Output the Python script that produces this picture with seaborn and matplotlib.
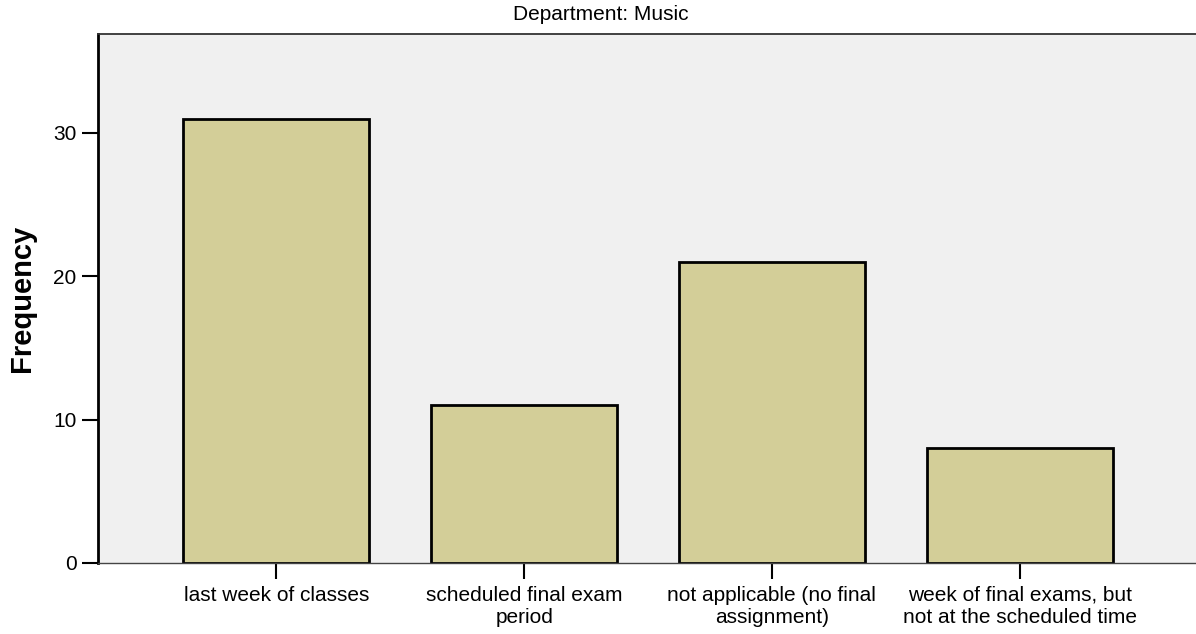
import matplotlib
matplotlib.use("Agg")
import matplotlib.pyplot as plt
import seaborn as sns
import pandas as pd

categories = ["last week of classes", "scheduled final exam\nperiod",
              "not applicable (no final\nassignment)", "week of final exams, but\nnot at the scheduled time"]
frequency = [31, 11, 21, 8]
yticks = [0, 10, 20, 30]

df = pd.DataFrame({"when": categories, "Frequency": frequency})

plt.rcParams['font.family'] = ['Liberation Sans', 'DejaVu Sans']

fig = plt.figure(figsize=(11.96, 6.34), dpi=100)
ax = fig.add_axes([98/1196, 71/634, 1100/1196, 529/634])
ax.set_facecolor("#F0F0F0")

sns.barplot(data=df, x="when", y="Frequency", color="#D3CE98", saturation=1,
            edgecolor="black", linewidth=2, width=0.75, ax=ax)

ax.set_xlim(-0.72, 3.72)
ax.set_ylim(0, 36.9)
ax.set_yticks(yticks)
ax.tick_params(axis="both", labelsize=15, length=11.5, width=1.5, color="black")
ax.tick_params(axis="y", pad=4)
ax.tick_params(axis="x", pad=5)
ax.set_xlabel("")
ax.set_ylabel("Frequency", fontsize=21, fontweight="bold", labelpad=12)

ax.spines["left"].set_linewidth(2)
ax.spines["left"].set_color("black")
ax.spines["top"].set_linewidth(1.3)
ax.spines["top"].set_color("#333333")
ax.spines["bottom"].set_linewidth(1)
ax.spines["bottom"].set_color("#444444")
ax.spines["right"].set_visible(False)

fig.text(601/1196, 1 - 14/634, "Department: Music", ha="center", va="center", fontsize=15)

fig.savefig("out.png", dpi=100)
